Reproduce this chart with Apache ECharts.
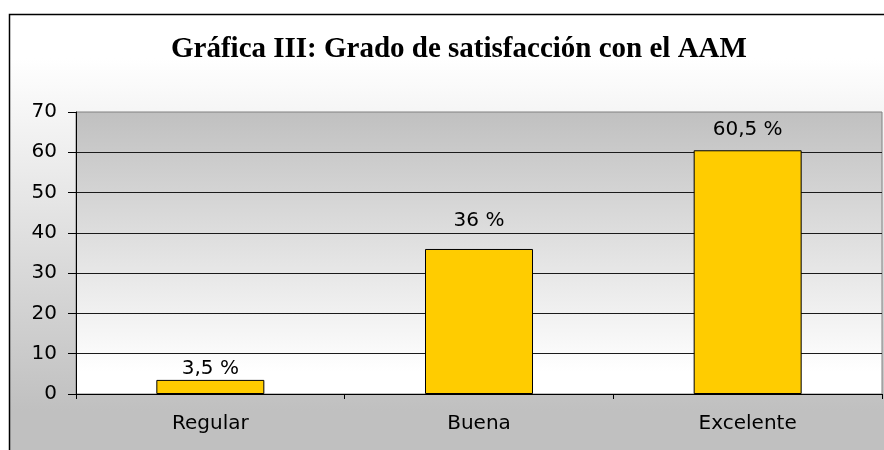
<!DOCTYPE html>
<html>
<head>
<meta charset="utf-8">
<script src="https://cdn.jsdelivr.net/npm/echarts@6/dist/echarts.min.js"></script>
<style>
  html, body { margin: 0; padding: 0; background: #fff; }
  #main { width: 884px; height: 450px; }
</style>
</head>
<body>
<div id="main"></div>
<script>
// datos
var categorias = ['Regular', 'Buena', 'Excelente'];
var valores = [3.5, 36, 60.5];
var titulo = 'Gráfica III: Grado de satisfacción con el AAM';
var yMin = 0, yMax = 70, yPaso = 10;
// separación de cada etiqueta sobre su barra (px)
var separacion = [1, 18, 10];

var fuente = 'DejaVu Sans';

var datos = valores.map(function (v, i) {
  return { value: v, label: { distance: separacion[i] } };
});

var myChart = echarts.init(document.getElementById('main'));

var option = {
  animation: false,
  backgroundColor: '#ffffff',
  graphic: [{
    type: 'rect',
    z: -10,
    shape: { x: 9.5, y: 14.5, width: 900, height: 440 },
    style: {
      stroke: '#000',
      lineWidth: 1.5,
      fill: new echarts.graphic.LinearGradient(0, 0, 0, 1, [
        { offset: 0, color: '#ffffff' },
        { offset: 0.1, color: '#ffffff' },
        { offset: 0.9, color: '#c0c0c0' },
        { offset: 1, color: '#c0c0c0' }
      ])
    }
  }],
  title: {
    text: titulo,
    left: 166,
    top: 30,
    textStyle: {
      fontFamily: 'Liberation Serif',
      fontWeight: 'bold',
      fontSize: 29,
      color: '#000'
    }
  },
  grid: {
    left: 76,
    right: 2,
    top: 112,
    bottom: 56,
    show: true,
    borderColor: '#808080',
    borderWidth: 1,
    backgroundColor: new echarts.graphic.LinearGradient(0, 0, 0, 1, [
      { offset: 0, color: '#c0c0c0' },
      { offset: 0.92, color: '#ffffff' },
      { offset: 1, color: '#ffffff' }
    ])
  },
  xAxis: {
    type: 'category',
    data: categorias,
    axisLine: { show: true, lineStyle: { color: '#000', width: 1 } },
    axisTick: { show: true, length: 5, lineStyle: { color: '#000' } },
    axisLabel: {
      margin: 20,
      fontFamily: fuente,
      fontSize: 20,
      color: '#000'
    }
  },
  yAxis: {
    type: 'value',
    min: yMin,
    max: yMax,
    interval: yPaso,
    axisLine: { show: true, lineStyle: { color: '#000', width: 1 } },
    axisTick: { show: true, length: 8, lineStyle: { color: '#000' } },
    axisLabel: {
      margin: 19,
      fontFamily: fuente,
      fontSize: 20,
      color: '#000'
    },
    splitLine: {
      show: true,
      showMaxLine: false,
      lineStyle: { color: '#1a1a1a', width: 1 }
    }
  },
  series: [{
    type: 'bar',
    data: datos,
    barWidth: 108,
    itemStyle: {
      color: '#ffcc00',
      borderColor: '#000',
      borderWidth: 1
    },
    label: {
      show: true,
      position: 'top',
      fontFamily: fuente,
      fontSize: 20,
      color: '#000',
      formatter: function (p) {
        return String(p.value).replace('.', ',') + ' %';
      }
    }
  }]
};

myChart.setOption(option);
</script>
</body>
</html>
